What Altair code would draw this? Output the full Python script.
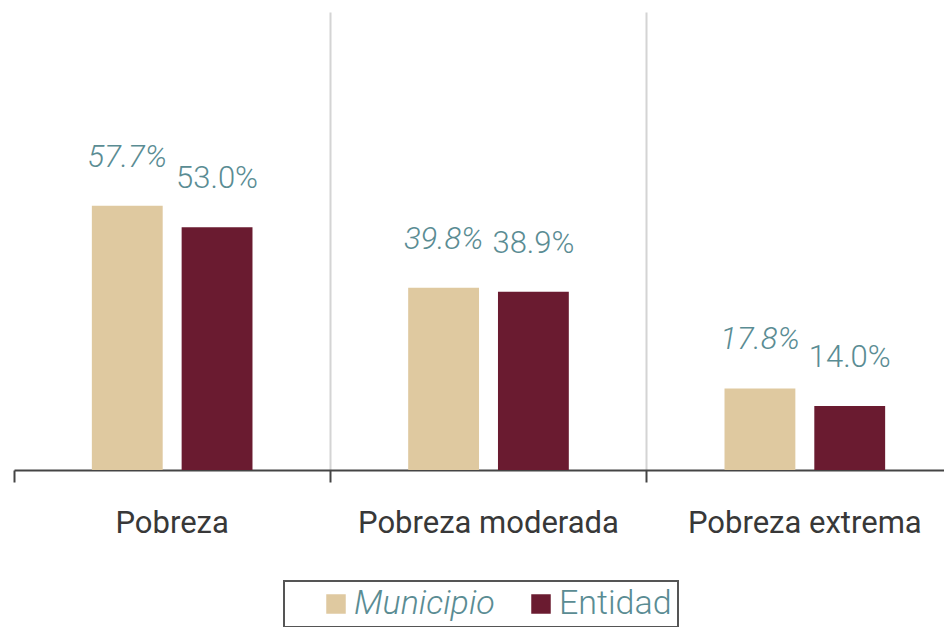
import altair as alt
import pandas as pd

categories = ["Pobreza", "Pobreza moderada", "Pobreza extrema"]
series = ["Municipio", "Entidad"]
municipio = [57.7, 39.8, 17.8]
entidad = [53.0, 38.9, 14.0]
colors = ["#dfc9a0", "#6a1b30"]
teal = "#5a8c93"

rows = []
for c, m, e in zip(categories, municipio, entidad):
    rows.append({"cat": c, "serie": "Municipio", "valor": m})
    rows.append({"cat": c, "serie": "Entidad", "valor": e})
df = pd.DataFrame(rows)
df["label"] = df["valor"].map(lambda v: f"{v:.1f}%")

W = 930
H = 458

x = alt.X(
    "cat:N", sort=categories, title=None,
    scale=alt.Scale(range=[0, 949], paddingInner=0, paddingOuter=0),
    axis=alt.Axis(
        bandPosition=0, grid=True, gridColor="#d4d4d4", gridWidth=2,
        gridOpacity={"condition": {"test": "datum.value === 'Pobreza'", "value": 0}, "value": 1},
        domainColor="#444444", domainWidth=2, tickColor="#444444", tickWidth=2, tickSize=12,
        labelFontSize=31, labelColor="#383838", labelPadding=26, labelAngle=0,
        labelFont="Roboto", labelLimit=0,
    ),
)
xo = alt.XOffset("serie:N", sort=series,
                 scale=alt.Scale(paddingInner=0.211, paddingOuter=0.867))
y = alt.Y("valor:Q", scale=alt.Scale(domain=[0, 100]), axis=None)
color = alt.Color(
    "serie:N", sort=series,
    scale=alt.Scale(domain=series, range=colors),
    legend=alt.Legend(
        title=None, orient="none", legendX=270, legendY=569, direction="horizontal",
        symbolType="square", symbolSize=380, symbolStrokeWidth=0,
        labelFontSize=34, labelColor=teal, labelFont="Roboto", labelFontWeight=300,
        labelFontStyle=alt.ExprRef("datum.label === 'Municipio' ? 'italic' : 'normal'"),
        labelExpr="datum.label == 'Entidad' ? 'Entidad\u2002' : datum.label",
        labelOffset=1, columnPadding=0, padding=6, symbolOffset=29,
        strokeColor="#555555", fillColor="white", labelLimit=0,
    ),
)

base = alt.Chart(df).encode(x=x, xOffset=xo, y=y)
bars = base.mark_bar().encode(color=color)
t_m = base.transform_filter("datum.serie === 'Municipio'").mark_text(
    dy=-39, baseline="alphabetic", fontSize=31, fontStyle="italic", fontWeight=300,
    color=teal, font="Roboto"
).encode(text="label:N")
t_e = base.transform_filter("datum.serie === 'Entidad'").mark_text(
    dy=-39, baseline="alphabetic", fontSize=31, fontWeight=300, color=teal, font="Roboto"
).encode(text="label:N")

chart = alt.layer(bars, t_m, t_e).properties(
    width=W, height=H,
    autosize=alt.AutoSizeParams(type="none"),
    padding={"left": 6, "top": 4, "right": 0, "bottom": 157},
).configure_view(stroke=None).configure_legend(strokeWidth=2)

chart.save("out.html", embed_options={"renderer": "svg", "actions": False})
